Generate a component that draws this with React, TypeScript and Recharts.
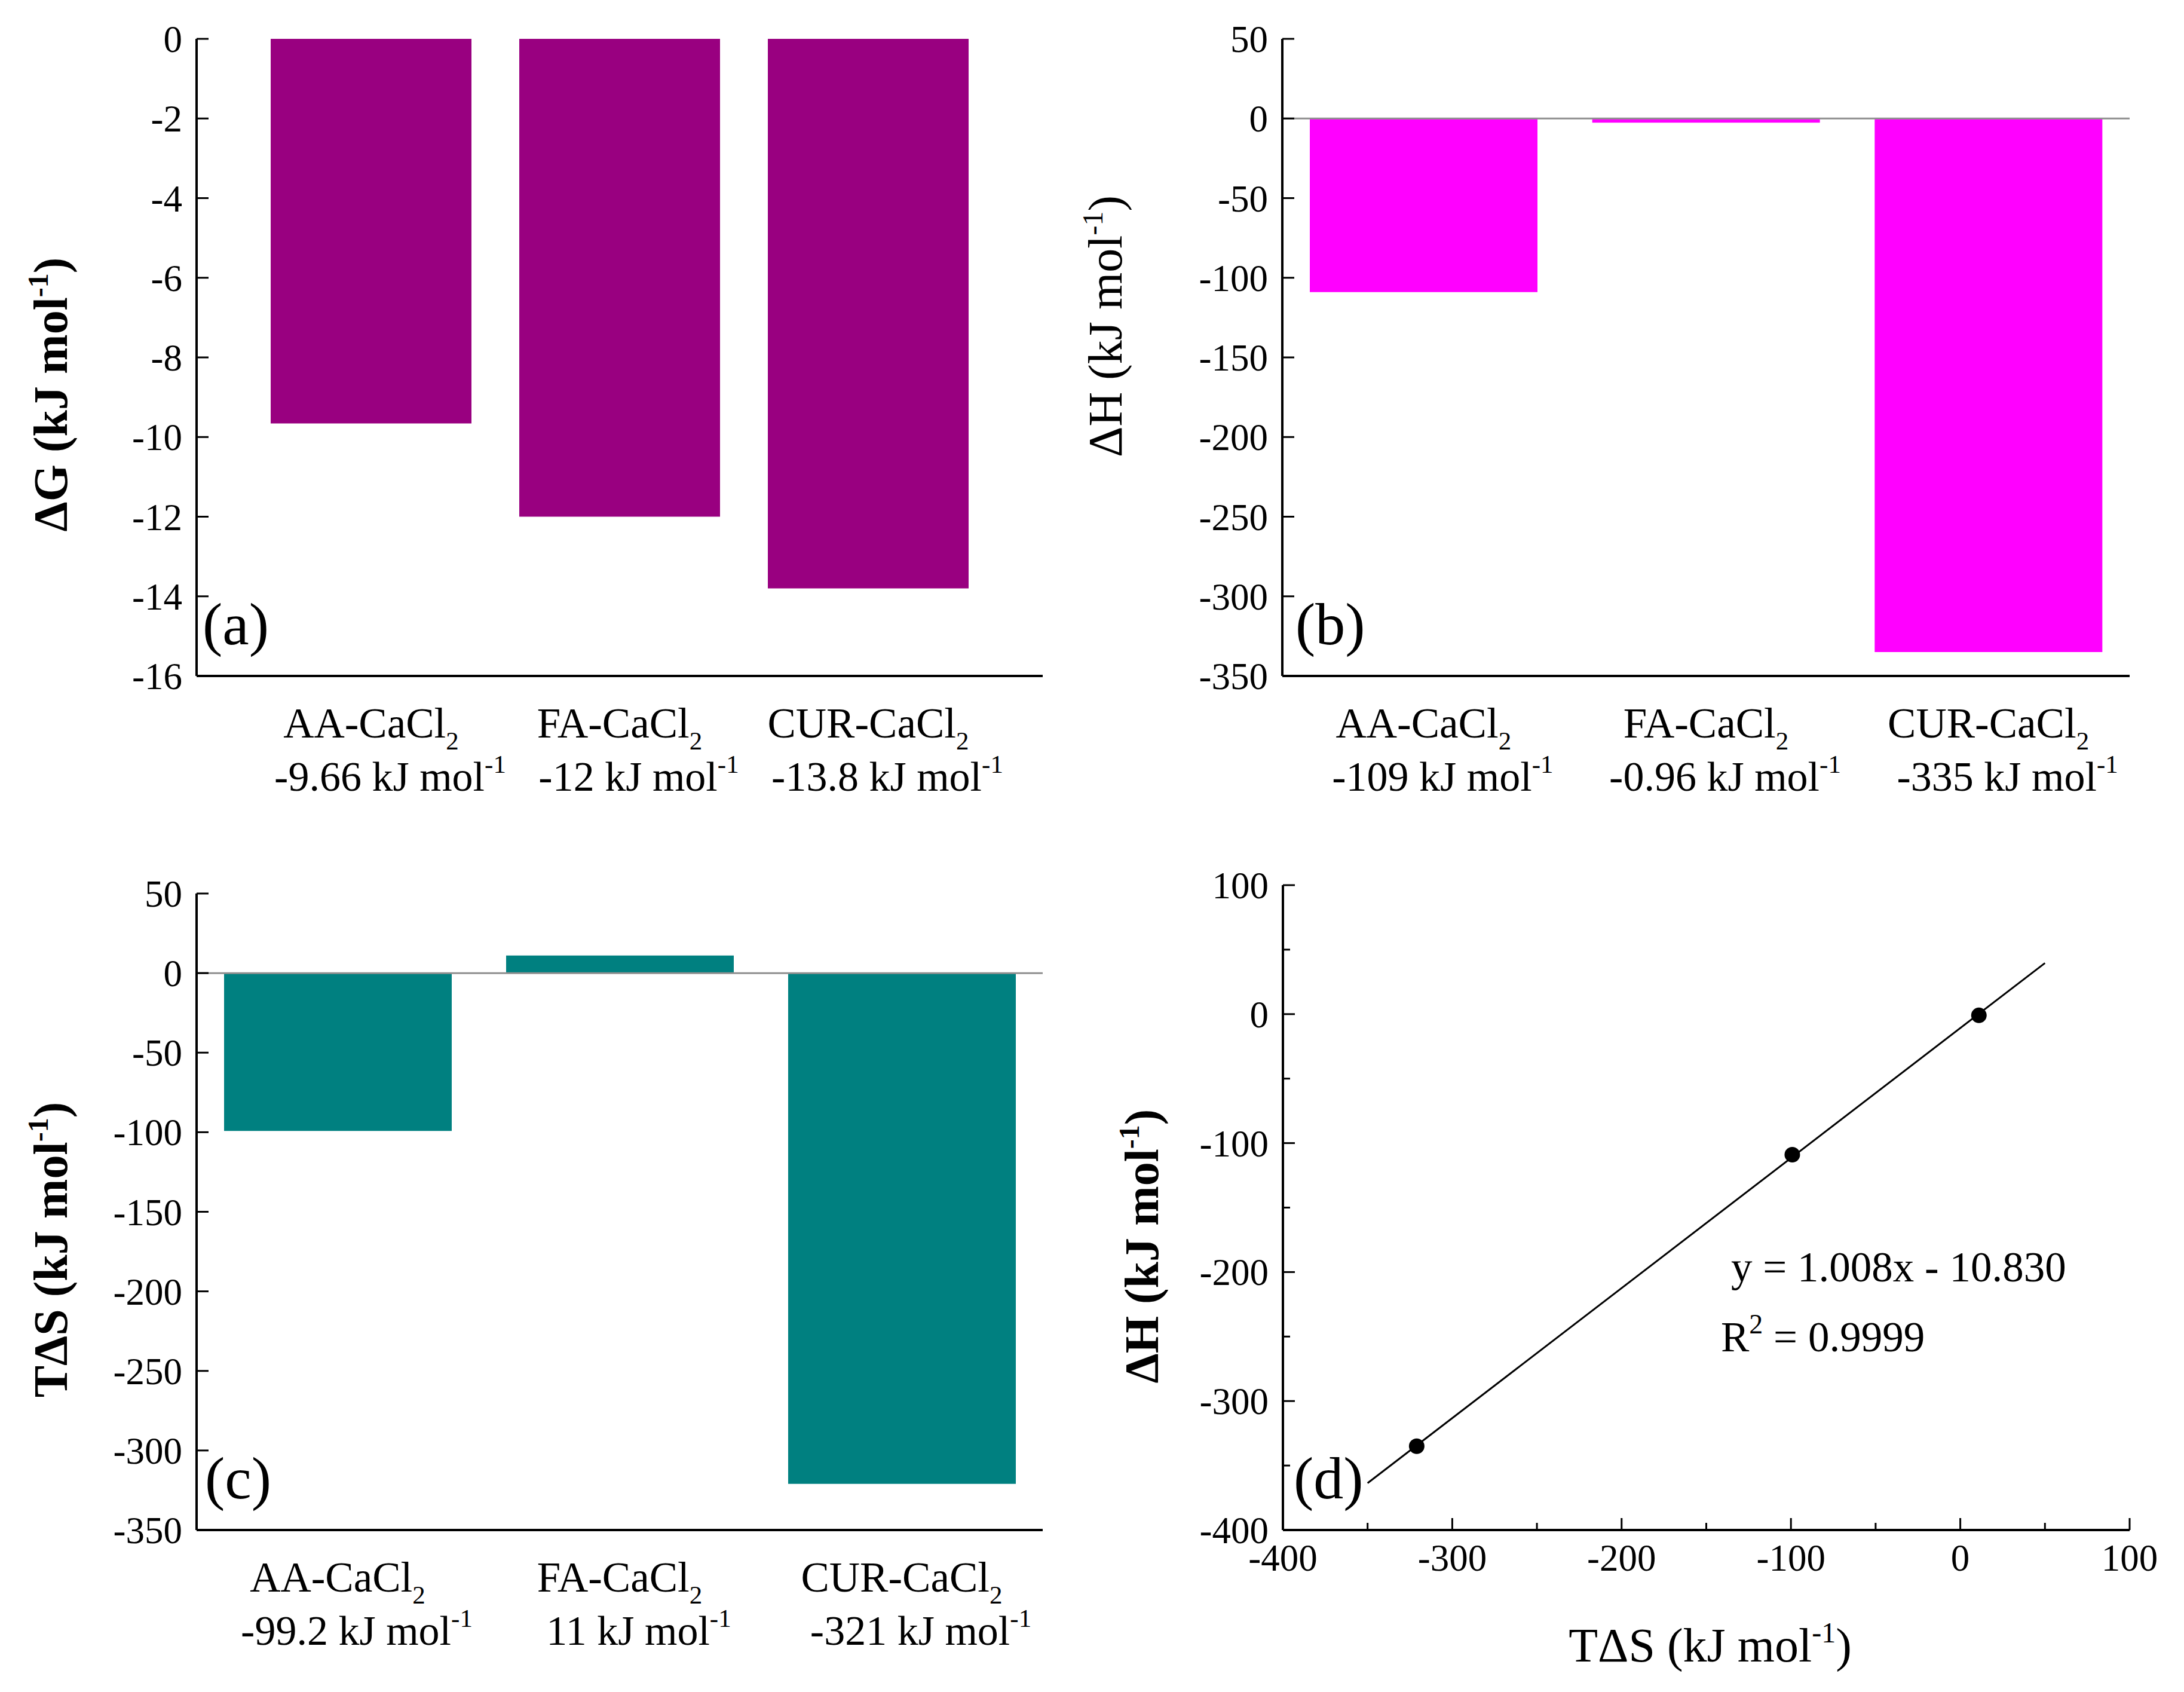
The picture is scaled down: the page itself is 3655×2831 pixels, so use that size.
import React from 'react'
import { BarChart, Bar, XAxis, YAxis, ReferenceLine, ScatterChart, Scatter } from 'recharts'

// complexes (the subscript 2 of CaCl2 is added when the label is drawn)
const categories = ['AA-CaCl', 'FA-CaCl', 'CUR-CaCl']
const deltaG = [-9.66, -12, -13.8]
const deltaH = [-109, -0.96, -335]
const tDeltaS = [-99.2, 11, -321]

const gTicks = [0, -2, -4, -6, -8, -10, -12, -14, -16]
const hsTicks = [50, 0, -50, -100, -150, -200, -250, -300, -350]
const dTicks = [-400, -350, -300, -250, -200, -150, -100, -50, 0, 50, 100]

// fitted line as drawn in panel (d): y = 1.008x - 10.830
const fitX = [-350, 50]
const fitY = [-363.6, 39.6]

const SERIF = '"Liberation Serif", "Times New Roman", serif'
const AXIS = { stroke: '#000', strokeWidth: 4 }

const toRows = (vals: number[]) => categories.map((name, i) => ({ name, value: vals[i] }))
const dPoints = tDeltaS.map((x, i) => ({ x, y: deltaH[i] }))

function yTick(minorStep?: number) {
  return (props: any) => {
    const { x, y, payload } = props
    const v = payload.value
    const major = !minorStep || v % minorStep === 0
    return (
      <g>
        <line x1={x} x2={x + (major ? 20 : 12)} y1={y} y2={y} stroke="#000" strokeWidth={3} />
        {major && (
          <text x={x - 24} y={y} dy="0.35em" textAnchor="end" fontSize={63} fontFamily={SERIF} fill="#000">
            {v}
          </text>
        )}
      </g>
    )
  }
}

function xNumTick(props: any) {
  const { x, y, payload } = props
  const v = payload.value
  const major = v % 100 === 0
  return (
    <g>
      <line x1={x} x2={x} y1={y} y2={y - (major ? 20 : 12)} stroke="#000" strokeWidth={3} />
      {major && (
        <text x={x} y={y + 68} textAnchor="middle" fontSize={63} fontFamily={SERIF} fill="#000">
          {v}
        </text>
      )}
    </g>
  )
}

function catTick(vals: number[]) {
  return (props: any) => {
    const { x, y, payload } = props
    const i = categories.indexOf(payload.value)
    return (
      <g>
        <text x={x} y={y + 103} textAnchor="middle" fontSize={71} fontFamily={SERIF} fill="#000">
          {payload.value}
          <tspan fontSize={43} dy={20}>2</tspan>
        </text>
        <text x={x + 32} y={y + 192} textAnchor="middle" fontSize={70} fontFamily={SERIF} fill="#000">
          {vals[i]} kJ mol
          <tspan fontSize={43} dy={-30}>-1</tspan>
        </text>
      </g>
    )
  }
}

function YTitle({ x, y, sym, bold }: { x: number; y: number; sym: string; bold?: boolean }) {
  return (
    <text
      transform={`translate(${x},${y}) rotate(-90)`}
      textAnchor="middle"
      fontSize={80}
      fontWeight={bold ? 'bold' : 'normal'}
      fontFamily={SERIF}
      fill="#000"
    >
      {sym} (kJ mol
      <tspan fontSize={48} dy={-32}>-1</tspan>
      <tspan dy={32}>)</tspan>
    </text>
  )
}

function PanelTag({ x, y, t }: { x: number; y: number; t: string }) {
  return (
    <text x={x} y={y} fontSize={100} fontFamily={SERIF} fill="#000">
      {t}
    </text>
  )
}

function ChartA() {
  return (
    <BarChart width={1760} height={1415} data={toRows(deltaG)} margin={{ top: 65, right: 15, bottom: 84, left: 129 }} barSize={336}>
      <XAxis dataKey="name" height={200} padding={{ left: 84, right: 84 }} interval={0} tickSize={0} tickMargin={0} tickLine={false} axisLine={AXIS} tick={catTick(deltaG)} />
      <XAxis xAxisId="top" dataKey="name" orientation="top" height={0} tick={false} tickLine={false} axisLine={AXIS} />
      <YAxis width={200} type="number" domain={[-16, 0]} ticks={gTicks} interval={0} tickSize={0} tickMargin={0} tickLine={false} axisLine={AXIS} tick={yTick()} />
      <YAxis yAxisId="right" orientation="right" type="number" domain={[-16, 0]} width={0} tick={false} tickLine={false} axisLine={AXIS} />
      <Bar dataKey="value" fill="#990080" isAnimationActive={false} />
      <YTitle x={112} y={660} sym="ΔG" bold />
      <PanelTag x={339} y={1078} t="(a)" />
    </BarChart>
  )
}

function ChartB() {
  return (
    <BarChart width={1895} height={1415} data={toRows(deltaH)} margin={{ top: 65, right: 91, bottom: 84, left: 186 }} barSize={381}>
      <XAxis dataKey="name" height={200} interval={0} tickSize={0} tickMargin={0} tickLine={false} axisLine={AXIS} tick={catTick(deltaH)} />
      <XAxis xAxisId="top" dataKey="name" orientation="top" height={0} tick={false} tickLine={false} axisLine={AXIS} />
      <YAxis width={200} type="number" domain={[-350, 50]} ticks={hsTicks} interval={0} tickSize={0} tickMargin={0} tickLine={false} axisLine={AXIS} tick={yTick()} />
      <YAxis yAxisId="right" orientation="right" type="number" domain={[-350, 50]} width={0} tick={false} tickLine={false} axisLine={AXIS} />
      <ReferenceLine y={0} stroke="#909090" strokeWidth={3} />
      <Bar dataKey="value" fill="#FF00FF" minPointSize={7} isAnimationActive={false} />
      <YTitle x={117} y={546} sym="ΔH" />
      <PanelTag x={408} y={1078} t="(b)" />
    </BarChart>
  )
}

function ChartC() {
  return (
    <BarChart width={1760} height={1416} data={toRows(tDeltaS)} margin={{ top: 80, right: 15, bottom: 71, left: 129 }} barSize={381}>
      <XAxis dataKey="name" height={200} interval={0} tickSize={0} tickMargin={0} tickLine={false} axisLine={AXIS} tick={catTick(tDeltaS)} />
      <XAxis xAxisId="top" dataKey="name" orientation="top" height={0} tick={false} tickLine={false} axisLine={AXIS} />
      <YAxis width={200} type="number" domain={[-350, 50]} ticks={hsTicks} interval={0} tickSize={0} tickMargin={0} tickLine={false} axisLine={AXIS} tick={yTick()} />
      <YAxis yAxisId="right" orientation="right" type="number" domain={[-350, 50]} width={0} tick={false} tickLine={false} axisLine={AXIS} />
      <ReferenceLine y={0} stroke="#909090" strokeWidth={3} />
      <Bar dataKey="value" fill="#008080" isAnimationActive={false} />
      <YTitle x={112} y={676} sym="TΔS" bold />
      <PanelTag x={343} y={1092} t="(c)" />
    </BarChart>
  )
}

function ChartD() {
  return (
    <ScatterChart width={1895} height={1416} margin={{ top: 66, right: 91, bottom: 71, left: 187 }}>
      <XAxis type="number" dataKey="x" domain={[-400, 100]} ticks={dTicks} interval={0} height={200} tickSize={0} tickMargin={0} tickLine={false} axisLine={AXIS} tick={xNumTick} />
      <XAxis xAxisId="top" orientation="top" type="number" domain={[-400, 100]} height={0} tick={false} tickLine={false} axisLine={AXIS} />
      <YAxis type="number" dataKey="y" domain={[-400, 100]} ticks={dTicks} interval={0} width={200} tickSize={0} tickMargin={0} tickLine={false} axisLine={AXIS} tick={yTick(100)} />
      <YAxis yAxisId="right" orientation="right" type="number" domain={[-400, 100]} width={0} tick={false} tickLine={false} axisLine={AXIS} />
      <ReferenceLine
        segment={[
          { x: fitX[0], y: fitY[0] },
          { x: fitX[1], y: fitY[1] },
        ]}
        stroke="#000"
        strokeWidth={3}
      />
      <Scatter
        data={dPoints}
        isAnimationActive={false}
        shape={(p: any) => <circle cx={p.cx} cy={p.cy} r={13} fill="#000" />}
      />
      <YTitle x={178} y={670} sym="ΔH" bold />
      <text x={1102} y={1365} textAnchor="middle" fontSize={80} fontFamily={SERIF} fill="#000">
        TΔS (kJ mol
        <tspan fontSize={48} dy={-32}>-1</tspan>
        <tspan dy={32}>)</tspan>
      </text>
      <text x={1137} y={729} fontSize={71} fontFamily={SERIF} fill="#000">
        y = 1.008x - 10.830
      </text>
      <text x={1120} y={846} fontSize={71} fontFamily={SERIF} fill="#000">
        R<tspan fontSize={46} dy={-30}>2</tspan>
        <tspan dy={30}> = 0.9999</tspan>
      </text>
      <PanelTag x={405} y={1092} t="(d)" />
    </ScatterChart>
  )
}

export default function App() {
  return (
    <div style={{ position: 'absolute', left: 0, top: 0, width: 3655, height: 2831, background: '#fff' }}>
      <div style={{ position: 'absolute', left: 0, top: 0 }}>
        <ChartA />
      </div>
      <div style={{ position: 'absolute', left: 1760, top: 0 }}>
        <ChartB />
      </div>
      <div style={{ position: 'absolute', left: 0, top: 1415 }}>
        <ChartC />
      </div>
      <div style={{ position: 'absolute', left: 1760, top: 1415 }}>
        <ChartD />
      </div>
    </div>
  )
}
